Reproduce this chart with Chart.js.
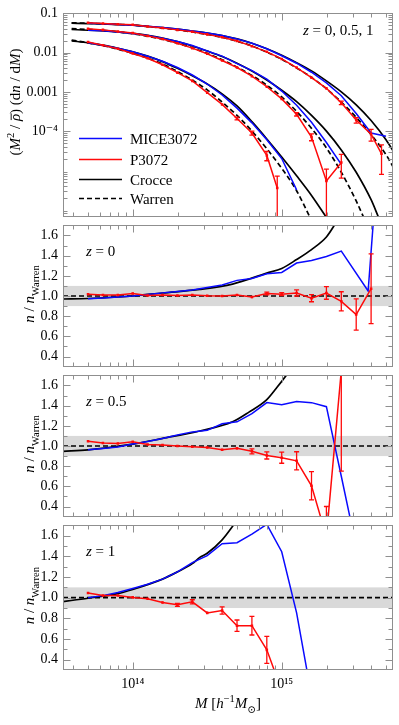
<!DOCTYPE html>
<html><head><meta charset="utf-8">
<script src="https://cdn.jsdelivr.net/npm/chart.js@4.4.1/dist/chart.umd.min.js"></script>
<style>
html,body{margin:0;padding:0;background:#fff;overflow:hidden}
#wrap{position:relative;width:399px;height:725px;background:#fff}
#wrap canvas{position:absolute;left:0}
</style></head><body>
<div id="wrap">
<canvas id="c4" style="top:512px" width="399" height="213"></canvas>
<canvas id="c3" style="top:362px" width="399" height="168"></canvas>
<canvas id="c2" style="top:212px" width="399" height="168"></canvas>
<canvas id="c1" style="top:0px" width="399" height="230"></canvas>
</div>
<script>
// ================= DATA (log10 M in h^-1 Msun) =================
const massBins = [13.7,13.8,13.9,14.0,14.1,14.2,14.3,14.4,14.5,14.6,14.7,14.8,14.9,15.0,15.1,15.2,15.3,15.4,15.5,15.6];
const massRange = [13.532, 15.747];

// ---- top panel: log10[(M^2/rho) dn/dM] ----
const crocceTopM_z0 = [13.59,13.7,13.8,13.9,14.0,14.1,14.2,14.3,14.4,14.5,14.6,14.7,14.8,14.9,15.0,15.1,15.2,15.3,15.4,15.5,15.6,15.7,15.76];
const crocceTop_z0  = [-1.25,-1.26,-1.27,-1.285,-1.30,-1.33,-1.36,-1.40,-1.45,-1.50,-1.565,-1.65,-1.76,-1.90,-2.065,-2.255,-2.465,-2.72,-3.0,-3.33,-3.73,-4.22,-4.58];
const warrenTop_z0  = [-1.24,-1.25,-1.265,-1.28,-1.30,-1.335,-1.375,-1.42,-1.475,-1.535,-1.61,-1.71,-1.83,-1.99,-2.17,-2.39,-2.63,-2.92,-3.26,-3.65,-4.09,-4.60,-5.0];

const crocceTopM_z05 = [13.59,13.7,13.8,13.9,14.0,14.1,14.2,14.3,14.4,14.5,14.6,14.7,14.8,14.9,15.0,15.1,15.2,15.3,15.4,15.5,15.6,15.65];
const crocceTop_z05  = [-1.41,-1.43,-1.445,-1.47,-1.51,-1.56,-1.63,-1.72,-1.83,-1.96,-2.10,-2.27,-2.47,-2.70,-2.96,-3.25,-3.60,-4.00,-4.48,-5.05,-5.75,-6.2];
const warrenTopM_z05 = [13.59,13.7,13.8,13.9,14.0,14.1,14.2,14.3,14.4,14.5,14.6,14.7,14.8,14.9,15.0,15.1,15.2,15.3,15.4,15.5,15.55];
const warrenTop_z05  = [-1.39,-1.41,-1.43,-1.47,-1.52,-1.58,-1.66,-1.76,-1.88,-2.02,-2.18,-2.37,-2.58,-2.83,-3.13,-3.50,-3.93,-4.43,-5.05,-5.78,-6.2];

const crocceTopM_z1 = [13.59,13.7,13.8,13.9,14.0,14.1,14.2,14.3,14.4,14.5,14.6,14.7,14.8,14.9,15.0,15.1,15.2,15.3];
const crocceTop_z1  = [-1.70,-1.75,-1.81,-1.89,-1.98,-2.09,-2.23,-2.40,-2.59,-2.80,-3.05,-3.36,-3.76,-4.20,-4.66,-5.14,-5.64,-6.2];
const warrenTopM_z1 = [13.59,13.7,13.8,13.9,14.0,14.1,14.2,14.3,14.4,14.5,14.6,14.7,14.8,14.9,15.0,15.1,15.19];
const warrenTop_z1  = [-1.68,-1.75,-1.82,-1.91,-2.02,-2.14,-2.29,-2.48,-2.70,-2.95,-3.26,-3.60,-4.0,-4.45,-4.95,-5.52,-6.2];

const miceTopM_z0 = [13.7,13.8,13.9,14.0,14.1,14.2,14.3,14.4,14.5,14.6,14.7,14.8,14.9,15.0,15.1,15.2,15.3,15.4,15.5,15.6,15.7];
const miceTop_z0  = [-1.25,-1.265,-1.28,-1.30,-1.33,-1.36,-1.40,-1.45,-1.50,-1.565,-1.65,-1.76,-1.90,-2.08,-2.27,-2.50,-2.77,-3.10,-3.55,-4.05,-4.13];
const pTopM_z0 = [13.7,13.8,13.9,14.0,14.1,14.2,14.3,14.4,14.5,14.6,14.7,14.8,14.9,15.0,15.1,15.2,15.3,15.4,15.5,15.6,15.67];
const pTop_z0  = [-1.24,-1.26,-1.275,-1.29,-1.335,-1.37,-1.42,-1.47,-1.535,-1.61,-1.705,-1.835,-1.98,-2.16,-2.38,-2.64,-2.91,-3.28,-3.72,-4.08,-4.58];
const pTopErr_z0 = [0.01,0.01,0.01,0.01,0.01,0.01,0.01,0.01,0.01,0.01,0.012,0.014,0.016,0.02,0.03,0.04,0.06,0.1,0.16,0.33,0.7];

const miceTopM_z05 = [13.7,13.8,13.9,14.0,14.1,14.2,14.3,14.4,14.5,14.6,14.7,14.8,14.9,15.0,15.1,15.2,15.3,15.4];
const miceTop_z05  = [-1.427,-1.44,-1.475,-1.51,-1.56,-1.63,-1.715,-1.82,-1.96,-2.09,-2.28,-2.46,-2.675,-2.98,-3.34,-3.775,-4.29,-4.85];
const pTopM_z05 = [13.7,13.8,13.9,14.0,14.1,14.2,14.3,14.4,14.5,14.6,14.7,14.8,14.9,15.0,15.1,15.2,15.3,15.4];
const pTop_z05  = [-1.39,-1.42,-1.46,-1.50,-1.575,-1.655,-1.76,-1.885,-2.03,-2.20,-2.38,-2.60,-2.87,-3.18,-3.57,-4.15,-5.27,-4.80];
const pTopErr_z05 = [0.01,0.01,0.01,0.01,0.01,0.01,0.01,0.01,0.012,0.014,0.016,0.025,0.04,0.06,0.1,0.2,1.0,0.6];

const miceTopM_z1 = [13.7,13.8,13.9,14.0,14.1,14.2,14.3,14.4,14.5,14.6,14.7,14.8,14.9,15.0,15.1];
const miceTop_z1  = [-1.75,-1.81,-1.89,-1.98,-2.09,-2.22,-2.38,-2.57,-2.80,-3.08,-3.415,-3.79,-4.22,-4.70,-5.5];
const pTopM_z1 = [13.7,13.8,13.9,14.0,14.1,14.2,14.3,14.4,14.5,14.6,14.7,14.8,14.9,14.97];
const pTop_z1  = [-1.73,-1.81,-1.90,-2.02,-2.145,-2.31,-2.51,-2.72,-3.02,-3.32,-3.68,-4.05,-4.62,-5.45];
const pTopErr_z1 = [0.01,0.01,0.01,0.01,0.01,0.012,0.015,0.02,0.02,0.04,0.08,0.12,0.27,1.0];

// ---- ratio panels: n / n_Warren ----
const warrenRatioM = [13.532, 15.747];
const warrenRatio  = [1, 1];
const bandRange = [0.9, 1.1];

const crocceRatioM_z0 = [13.53,13.7,13.9,14.0,14.2,14.45,14.67,14.9,15.0,15.1,15.2,15.3,15.35,15.45];
const crocceRatio_z0  = [0.97,0.975,0.99,1.0,1.03,1.065,1.118,1.227,1.273,1.361,1.46,1.585,1.693,1.95];
const miceRatioM_z0 = [13.7,13.8,13.9,14.0,14.1,14.2,14.3,14.4,14.5,14.6,14.7,14.8,14.9,15.0,15.1,15.2,15.3,15.4,15.58,15.7];
const miceRatio_z0  = [0.972,0.98,0.99,1.0,1.015,1.031,1.045,1.06,1.084,1.109,1.155,1.174,1.221,1.233,1.327,1.352,1.392,1.445,1.05,3.4];
const pRatioM_z0 = massBins;
const pRatio_z0  = [1.018,1.01,1.01,1.025,1.005,1.01,1.005,1.01,1.003,1.0,1.009,0.99,1.025,1.018,1.03,0.978,1.03,0.947,0.816,1.072];
const pRatioErr_z0 = [0.006,0.006,0.006,0.006,0.006,0.006,0.006,0.007,0.008,0.008,0.01,0.012,0.013,0.015,0.03,0.035,0.062,0.095,0.155,0.345];

const crocceRatioM_z05 = [13.53,13.7,14.0,14.2,14.45,14.67,14.78,14.9,14.97,15.03,15.1];
const crocceRatio_z05  = [0.947,0.962,1.019,1.075,1.149,1.24,1.336,1.46,1.585,1.70,1.85];
const miceRatioM_z05 = [13.7,13.8,13.9,14.0,14.1,14.2,14.3,14.4,14.5,14.6,14.7,14.8,14.9,15.0,15.1,15.2,15.3,15.4,15.5];
const miceRatio_z05  = [0.962,0.975,0.99,1.019,1.045,1.075,1.11,1.14,1.155,1.22,1.24,1.32,1.43,1.41,1.44,1.43,1.39,0.70,0.0];
const pRatioM_z05 = [13.7,13.8,13.9,14.0,14.1,14.2,14.3,14.4,14.5,14.6,14.7,14.8,14.9,15.0,15.1,15.2,15.3,15.4];
const pRatio_z05  = [1.047,1.03,1.025,1.043,1.015,1.01,1.0,0.993,0.985,0.962,0.978,0.947,0.906,0.884,0.853,0.605,0.1,1.75];
const pRatioErr_z05 = [0.006,0.006,0.006,0.006,0.006,0.006,0.006,0.007,0.008,0.01,0.012,0.025,0.035,0.055,0.09,0.14,0.3,1.0];

const crocceRatioM_z1 = [13.53,13.7,13.9,14.0,14.2,14.3,14.4,14.45,14.5,14.6,14.68,14.75];
const crocceRatio_z1  = [0.962,0.995,1.04,1.08,1.18,1.25,1.33,1.39,1.43,1.56,1.71,1.85];
const miceRatioM_z1 = [13.7,13.8,13.9,14.0,14.1,14.2,14.3,14.4,14.5,14.6,14.7,14.8,14.9,15.0,15.1,15.2];
const miceRatio_z1  = [1.0,1.02,1.05,1.09,1.13,1.18,1.25,1.34,1.408,1.523,1.532,1.616,1.71,1.445,0.853,0.05];
const pRatioM_z1 = [13.7,13.8,13.9,14.0,14.1,14.2,14.3,14.4,14.5,14.6,14.7,14.8,14.9,15.0];
const pRatio_z1  = [1.046,1.021,1.021,1.003,0.99,0.953,0.931,0.96,0.853,0.876,0.729,0.729,0.495,0.1];
const pRatioErr_z1 = [0.006,0.006,0.006,0.006,0.006,0.01,0.015,0.02,0.012,0.035,0.055,0.09,0.13,0.2];

// tick values
const xMajorTicks = [1e14, 1e15];
const xMinorTicks = [4e13,5e13,6e13,7e13,8e13,9e13,2e14,3e14,4e14,5e14,6e14,7e14,8e14,9e14,2e15,3e15,4e15,5e15];
const topYTicks = [0.1, 0.01, 0.001, 1e-4];
const topYTickLabels = ['0.1', '0.01', '0.001', '10\u207B\u2074'];
const ratioYTicks = [0.4,0.6,0.8,1.0,1.2,1.4,1.6];

// ================= RENDERING =================
const SERIF = '"Liberation Serif","DejaVu Serif","Times New Roman",serif';
const BLUE = '#0a0aff', RED = '#ff0a0a', BLACK = '#000000';
const FRAME = '#8f8f8f';
Chart.defaults.font.family = SERIF;

const pts = (ms, vs, isLog) => ms.map((m, i) => ({ x: Math.pow(10, m), y: isLog ? Math.pow(10, vs[i]) : vs[i] }));
const topMinorY = [];
for (let e = -7; e <= -2; e++) for (let k = 2; k <= 9; k++) topMinorY.push(k * Math.pow(10, e));
const ratioMinorY = [];
for (let v = 0.3; v <= 1.71; v += 0.1) ratioMinorY.push(Math.round(v * 10) / 10);

const bandPlugin = {
  id: 'band',
  beforeDatasetsDraw(chart, _a, o) {
    if (!o || !o.range) return;
    const { ctx, chartArea: a } = chart; const ys = chart.scales.y;
    const t = ys.getPixelForValue(o.range[1]), b = ys.getPixelForValue(o.range[0]);
    ctx.save(); ctx.fillStyle = '#d9d9d9'; ctx.fillRect(a.left, t, a.width, b - t); ctx.restore();
  }
};

const errorPlugin = {
  id: 'errbars',
  afterDatasetsDraw(chart) {
    const { ctx, chartArea: a } = chart; const xs = chart.scales.x, ys = chart.scales.y;
    ctx.save(); ctx.beginPath(); ctx.rect(a.left, a.top, a.width, a.height); ctx.clip();
    chart.data.datasets.forEach(ds => {
      if (!ds.errors) return;
      ctx.strokeStyle = ds.borderColor; ctx.lineWidth = 1.3;
      ds.data.forEach((p, i) => {
        const e = ds.errors[i]; if (!e) return;
        let hi, lo;
        if (ds.errorMode === 'fraction') { hi = p.y * (1 + e); lo = p.y * (1 - e); if (lo <= 0) lo = ys.min / 1000; }
        else { hi = p.y + e; lo = p.y - e; }
        const px = xs.getPixelForValue(p.x), yh = ys.getPixelForValue(hi), yl = ys.getPixelForValue(lo);
        ctx.beginPath(); ctx.moveTo(px, yh); ctx.lineTo(px, yl);
        if (yl - yh > 2.5) {
          ctx.moveTo(px - 2.5, yh); ctx.lineTo(px + 2.5, yh);
          ctx.moveTo(px - 2.5, yl); ctx.lineTo(px + 2.5, yl);
        }
        ctx.stroke();
      });
    });
    ctx.restore();
  }
};

const framePlugin = {
  id: 'frame',
  afterDatasetsDraw(chart, _a, o) {
    const { ctx, chartArea: a } = chart; const xs = chart.scales.x, ys = chart.scales.y;
    const L = Math.round(a.left) + 0.5, R = Math.round(a.right) - 0.5, T = Math.round(a.top) + 0.5, B = Math.round(a.bottom) - 0.5;
    ctx.save(); ctx.strokeStyle = FRAME; ctx.lineWidth = 1;
    ctx.strokeRect(L, T, R - L, B - T);
    ctx.beginPath();
    const tx = (v, len) => { const p = Math.round(xs.getPixelForValue(v)) + 0.5; ctx.moveTo(p, T); ctx.lineTo(p, T + len); ctx.moveTo(p, B); ctx.lineTo(p, B - len); };
    const ty = (v, len) => { const p = Math.round(ys.getPixelForValue(v)) + 0.5; if (p < T || p > B) return; ctx.moveTo(L, p); ctx.lineTo(L + len, p); ctx.moveTo(R, p); ctx.lineTo(R - len, p); };
    xMajorTicks.forEach(v => tx(v, 7)); xMinorTicks.forEach(v => tx(v, 4));
    o.yMajor.forEach(v => ty(v, 7)); o.yMinor.forEach(v => ty(v, 4));
    ctx.stroke(); ctx.restore();
  }
};

// rich text helpers
function fnt(size, it) { return (it ? 'italic ' : '') + size + 'px ' + SERIF; }
function richWidth(ctx, parts, size) {
  let w = 0;
  for (const p of parts) { ctx.font = fnt((p.sub || p.sup) ? size * 0.7 : size, p.it); w += ctx.measureText(p.t).width; }
  return w;
}
function drawRich(ctx, parts, x, y, size, align) {
  const w = richWidth(ctx, parts, size);
  let cx = align === 'center' ? x - w / 2 : (align === 'right' ? x - w : x);
  ctx.textBaseline = 'alphabetic'; ctx.textAlign = 'left'; ctx.fillStyle = '#000';
  for (const p of parts) {
    const s = (p.sub || p.sup) ? size * 0.7 : size;
    ctx.font = fnt(s, p.it);
    const dy = p.sub ? size * 0.3 : (p.sup ? -size * 0.4 : 0);
    ctx.fillText(p.t, cx, y + dy);
    const tw = ctx.measureText(p.t).width;
    if (p.over) ctx.fillRect(cx + 1, y - size * 0.62, tw - 0.5, 0.9);
    cx += tw;
  }
}
function drawRotated(ctx, parts, x, y, size) {
  ctx.save(); ctx.translate(x, y); ctx.rotate(-Math.PI / 2); drawRich(ctx, parts, 0, 0, size, 'center'); ctx.restore();
}
const textPlugin = {
  id: 'texts',
  afterDraw(chart, _a, o) { if (o && o.draw) { chart.ctx.save(); o.draw(chart.ctx, chart); chart.ctx.restore(); } }
};

const ratioTitle = [{ t: 'n', it: true }, { t: ' / ' }, { t: 'n', it: true }, { t: 'Warren', sub: true }];

function lineDS(label, data, color, extra) {
  return Object.assign({ label, data, borderColor: color, backgroundColor: color, borderWidth: 1.5, pointRadius: 0, tension: 0, fill: false }, extra || {});
}
function fitDS(label, data, dashed) {
  return lineDS(label, data, BLACK, { borderWidth: 1.7, cubicInterpolationMode: 'monotone', borderDash: dashed ? [5, 3] : [] });
}
function pDS(data, errs, mode) {
  return lineDS('P3072', data, RED, { pointRadius: 1.8, pointStyle: 'rect', pointBorderWidth: 0, pointBackgroundColor: RED, errors: errs, errorMode: mode });
}

function makeChart(id, cfg) {
  const xAxis = {
    type: 'logarithmic', min: Math.pow(10, massRange[0]), max: Math.pow(10, massRange[1]),
    display: cfg.showX ? true : false,
    grid: { display: false, drawTicks: false }, border: { display: false },
    afterBuildTicks: s => { s.ticks = xMajorTicks.map(v => ({ value: v })); },
    afterFit: s => { if (cfg.showX) s.height = cfg.xHeight; },
    ticks: { autoSkip: false, maxRotation: 0, padding: 6, color: '#000', font: { family: SERIF, size: 14 },
      callback: v => '10' + (Math.round(Math.log10(v)) === 14 ? '\u00B9\u2074' : '\u00B9\u2075') }
  };
  const yAxis = Object.assign({
    grid: { display: false, drawTicks: false }, border: { display: false },
    afterFit: s => { s.width = 63; },
    afterBuildTicks: s => { s.ticks = cfg.yTicks.map(v => ({ value: v })); },
    ticks: { autoSkip: false, padding: 5, color: '#000', font: { family: SERIF, size: 14 }, callback: cfg.yLabel }
  }, cfg.y);
  return new Chart(document.getElementById(id), {
    type: 'line',
    data: { datasets: cfg.datasets },
    options: {
      responsive: false, animation: false, devicePixelRatio: 1,
      layout: { padding: { left: 0, right: 6, top: cfg.padTop, bottom: cfg.padBottom } },
      scales: { x: xAxis, y: yAxis },
      plugins: {
        legend: { display: false }, tooltip: { enabled: false },
        band: { range: cfg.band }, frame: { yMajor: cfg.yMajor, yMinor: cfg.yMinor }, texts: { draw: cfg.draw }
      }
    },
    plugins: [bandPlugin, errorPlugin, framePlugin, textPlugin]
  });
}

// ---- top panel ----
makeChart('c1', {
  padTop: 8, padBottom: 9, showX: false,
  y: { type: 'logarithmic', min: Math.pow(10, -6.18), max: 0.1 },
  yTicks: topYTicks, yLabel: v => { const i = topYTicks.findIndex(t => Math.abs(t - v) / t < 1e-6); return i >= 0 ? topYTickLabels[i] : ''; },
  yMajor: topYTicks, yMinor: topMinorY,
  datasets: [
    pDS(pts(pTopM_z0, pTop_z0, true), pTopErr_z0, 'fraction'),
    pDS(pts(pTopM_z05, pTop_z05, true), pTopErr_z05, 'fraction'),
    pDS(pts(pTopM_z1, pTop_z1, true), pTopErr_z1, 'fraction'),
    lineDS('MICE3072', pts(miceTopM_z0, miceTop_z0, true), BLUE),
    lineDS('MICE3072', pts(miceTopM_z05, miceTop_z05, true), BLUE),
    lineDS('MICE3072', pts(miceTopM_z1, miceTop_z1, true), BLUE),
    fitDS('Warren', pts(crocceTopM_z0, warrenTop_z0, true), true),
    fitDS('Warren', pts(warrenTopM_z05, warrenTop_z05, true), true),
    fitDS('Warren', pts(warrenTopM_z1, warrenTop_z1, true), true),
    fitDS('Crocce', pts(crocceTopM_z0, crocceTop_z0, true), false),
    fitDS('Crocce', pts(crocceTopM_z05, crocceTop_z05, true), false),
    fitDS('Crocce', pts(crocceTopM_z1, crocceTop_z1, true), false)
  ],
  draw: (ctx) => {
    drawRich(ctx, [{ t: 'z', it: true }, { t: ' = 0, 0.5, 1' }], 303, 35, 15, 'left');
    const rows = [['MICE3072', BLUE, []], ['P3072', RED, []], ['Crocce', BLACK, []], ['Warren', BLACK, [5, 3]]];
    const ys = [138, 159, 179, 198];
    rows.forEach((r, i) => {
      ctx.strokeStyle = r[1]; ctx.lineWidth = 1.7; ctx.setLineDash(r[2]);
      ctx.beginPath(); ctx.moveTo(79, ys[i] + 0.5); ctx.lineTo(122, ys[i] + 0.5); ctx.stroke();
      ctx.setLineDash([]);
      drawRich(ctx, [{ t: r[0] }], 130, ys[i] + 5.5, 15, 'left');
    });
    drawRotated(ctx, [{ t: '(' }, { t: 'M', it: true }, { t: '2', sup: true }, { t: ' / ' }, { t: '\u03C1', it: true, over: true }, { t: ') (d' }, { t: 'n', it: true }, { t: ' / d' }, { t: 'M', it: true }, { t: ')' }], 20, 102, 15);
  }
});

function ratioPanel(id, zText, cro, croM, mic, micM, pv, pM, pe, opts) {
  makeChart(id, Object.assign({
    padTop: 9, padBottom: 9, showX: false,
    y: { type: 'linear', min: 0.3, max: 1.7 },
    yTicks: ratioYTicks, yLabel: v => v.toFixed(1),
    yMajor: ratioYTicks, yMinor: ratioMinorY, band: bandRange,
    datasets: [
      pDS(pts(pM, pv, false), pe, 'abs'),
      lineDS('MICE3072', pts(micM, mic, false), BLUE),
      fitDS('Warren', pts(warrenRatioM, warrenRatio, false), true),
      fitDS('Crocce', pts(croM, cro, false), false)
    ],
    draw: (ctx, chart) => {
      const a = chart.chartArea;
      drawRich(ctx, [{ t: 'z', it: true }, { t: ' = ' + zText }], 86, a.top + 31, 15, 'left');
      drawRotated(ctx, ratioTitle, 34, (a.top + a.bottom) / 2 - 2, 15);
      if (opts && opts.xTitle) {
        drawRich(ctx, [{ t: 'M', it: true }, { t: ' [' }, { t: 'h', it: true }, { t: '\u22121', sup: true }, { t: 'M', it: true }, { t: '\u2299', sub: true }, { t: ']' }], 228, a.bottom + 38, 15, 'center');
      }
    }
  }, opts || {}));
}
ratioPanel('c2', '0', crocceRatio_z0, crocceRatioM_z0, miceRatio_z0, miceRatioM_z0, pRatio_z0, pRatioM_z0, pRatioErr_z0);
ratioPanel('c3', '0.5', crocceRatio_z05, crocceRatioM_z05, miceRatio_z05, miceRatioM_z05, pRatio_z05, pRatioM_z05, pRatioErr_z05);
ratioPanel('c4', '1', crocceRatio_z1, crocceRatioM_z1, miceRatio_z1, miceRatioM_z1, pRatio_z1, pRatioM_z1, pRatioErr_z1,
  { showX: true, xHeight: 55, padBottom: 0, xTitle: true });
</script>
</body></html>
